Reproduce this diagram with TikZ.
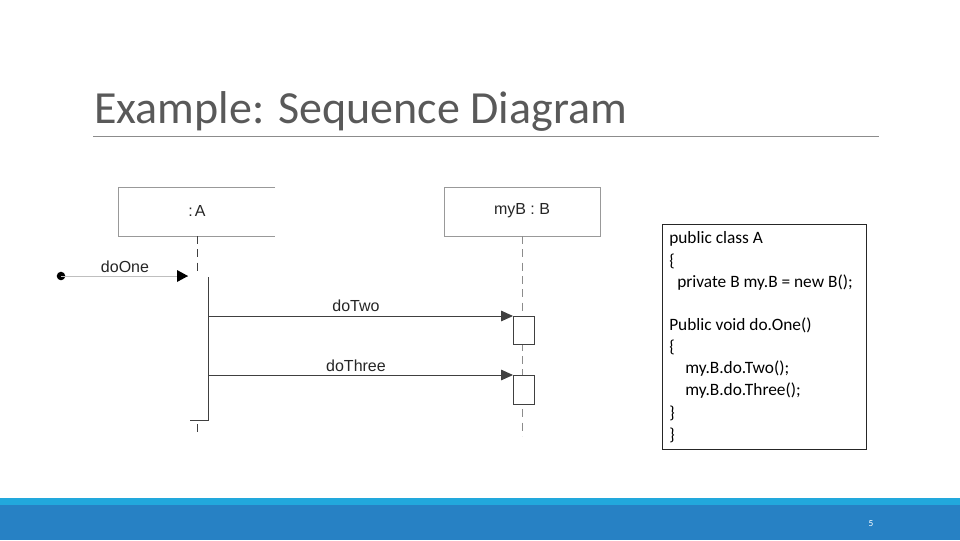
\documentclass[tikz,border=0pt]{standalone}
\usepackage{fontspec}
\setmainfont{Carlito}
\newfontfamily\arial{Liberation Sans}
\usetikzlibrary{arrows.meta}
\definecolor{titlegray}{HTML}{595959}
\definecolor{lightbar}{HTML}{22A8DC}
\definecolor{darkbar}{HTML}{2781C4}
\begin{document}
\begin{tikzpicture}[x=0.75pt,y=-0.75pt,
  ln/.style={draw=black!75,line width=0.7pt},
  life/.style={draw=black!45,dashed,dash pattern=on 6pt off 4pt,line width=0.6pt},
  msg/.style={draw=black!75,line width=0.7pt,-{Triangle[length=9pt,width=8pt]}},
  lbl/.style={font=\arial\fontsize{12pt}{14pt}\selectfont,text=black!85},
  code/.style={font=\fontsize{13pt}{15pt}\selectfont,anchor=west,inner sep=0pt}]
\useasboundingbox (0,0) rectangle (960,540);
\fill[white] (0,0) rectangle (960,540);
% title
\node[anchor=base west,inner sep=0pt,text=titlegray,font=\fontsize{34.5pt}{40pt}\selectfont] (title) at (94,123) {Example: Sequence Diagram};
\draw[black!45,line width=0.6pt] (93,136) -- (879,136);
% boxes
\draw[ln,draw=black!40] (275,187) -- (118,187) -- (118,236) -- (275,236);
\node[lbl] (A) at (197,211) {:\kern1.5pt A};
\draw[ln,draw=black!40] (444,187) rectangle (600,236);
\node[lbl] (B) at (522,211) {myB : B};
% lifelines
\coordinate (a0) at (197,236); \coordinate (a1) at (197,275);
\draw[life,draw=black!75] (a0) -- (a1);
\coordinate (a2) at (197,424); \coordinate (a3) at (197,433);
\draw[life,draw=black!75] (a2) -- (a3);
\coordinate (b0) at (522,236); \coordinate (b1) at (522,436);
\draw[life] (b0) -- (b1);
% activation A
\coordinate (act0) at (208,277); \coordinate (act1) at (208,420); \coordinate (act2) at (190,420);
\draw[ln] (act0) -- (act1) -- (act2);
% doOne
\fill (61,276) circle (3.2pt);
\coordinate (d0) at (61,276); \coordinate (d1) at (188,276);
\draw[draw=black!25,line width=0.7pt] (d0) -- (d1);
\fill (188,276) -- (177,270) -- (177,282) -- cycle;
\node[lbl] (l1) at (125,267) {doOne};
% activation B
\node[draw=black!75,fill=white,line width=0.7pt,minimum width=15.75pt,minimum height=21pt,inner sep=0pt,anchor=north west] (ab1) at (513,316) {};
\node[draw=black!75,fill=white,line width=0.7pt,minimum width=15.75pt,minimum height=21.75pt,inner sep=0pt,anchor=north west] (ab2) at (513,375) {};
\coordinate (s2) at (208,316); \coordinate (s3) at (208,375);
\draw[msg] (s2) -- (ab1.north west);
\draw[msg] (s3) -- (ab2.north west);
\node[lbl] (l2) at (356,306) {doTwo};
\node[lbl] (l3) at (356,366) {doThree};
% code box
\draw[black!85,line width=0.6pt] (662,224) rectangle (866,449);
\node[code] at (669,239) {public class A};
\node[code] at (669,261) {\{};
\node[code] at (677,283) {private B my.B = new B();};
\node[code] at (669,325) {Public void do.One()};
\node[code] at (669,347) {\{};
\node[code] at (685,369) {my.B.do.Two();};
\node[code] at (685,391) {my.B.do.Three();};
\node[code] at (669,413) {\}};
\node[code] at (669,435) {\}};
% bottom bar
\fill[lightbar] (0,498) rectangle (960,505);
\fill[darkbar] (0,505) rectangle (960,540);
\node[text=white,font=\fontsize{7pt}{8pt}\selectfont] (pg) at (871,524) {5};
\end{tikzpicture}
\end{document}
